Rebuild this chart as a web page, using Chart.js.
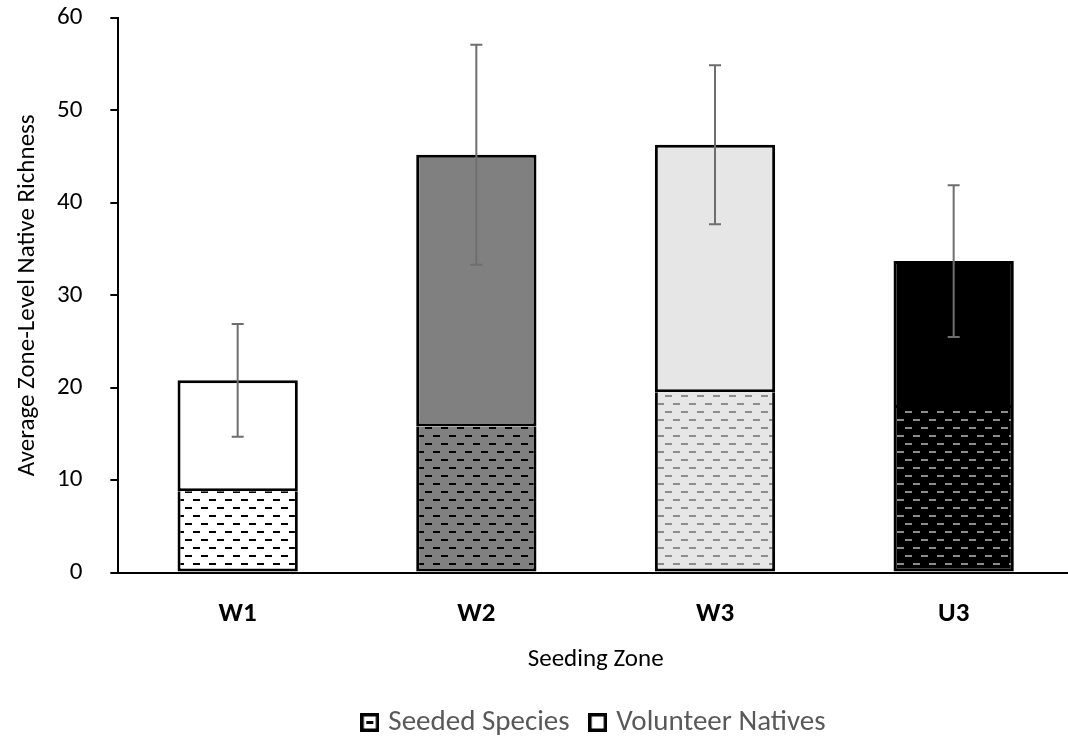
<!DOCTYPE html>
<html>
<head>
<meta charset="utf-8">
<script src="https://cdn.jsdelivr.net/npm/chart.js@4/dist/chart.umd.min.js"></script>
<style>
html,body{margin:0;padding:0;background:#fff;overflow:hidden;}
#wrap{position:relative;width:1073px;height:738px;}
</style>
</head>
<body>
<div id="wrap"><canvas id="c"></canvas></div>
<script>
const categories = ["W1", "W2", "W3", "U3"];
const seededSpecies = [8.8, 15.8, 19.5, 17.8];
const volunteerNatives = [12.0, 29.4, 26.8, 15.9];
const errorSE = [6.1, 11.9, 8.6, 8.2];
const yTicks = [0, 10, 20, 30, 40, 50, 60];

const barFill = ["#ffffff", "#808080", "#e6e6e6", "#000000"];
const dashColor = ["#000000", "#000000", "#8c8c8c", "#8c8c8c"];

function makePattern(bg, fg) {
  const t = document.createElement('canvas');
  t.width = 16; t.height = 16;
  const g = t.getContext('2d');
  g.fillStyle = bg; g.fillRect(0, 0, 16, 16);
  g.fillStyle = fg;
  g.fillRect(1, 3, 7, 2);
  g.fillRect(9, 11, 7, 2);
  return document.createElement('canvas').getContext('2d').createPattern(t, 'repeat');
}
const seededFill = barFill.map((b, i) => makePattern(b, dashColor[i]));

function legendIcon(withDash) {
  const s = document.createElement('canvas');
  s.width = 19; s.height = 19;
  const g = s.getContext('2d');
  g.fillStyle = '#fff'; g.fillRect(0, 0, 19, 19);
  g.strokeStyle = '#000'; g.lineWidth = 3.5;
  g.strokeRect(1.75, 1.75, 15.5, 15.5);
  if (withDash) { g.fillStyle = '#000'; g.fillRect(6, 8, 7, 3); }
  return s;
}

const errorBars = {
  id: 'errorBars',
  afterDatasetsDraw(chart) {
    const ctx = chart.ctx;
    const xs = chart.scales.x, ys = chart.scales.y;
    ctx.save();
    ctx.strokeStyle = '#6e6e6e';
    ctx.lineWidth = 2;
    categories.forEach((c, i) => {
      const total = seededSpecies[i] + volunteerNatives[i];
      const x = xs.getPixelForValue(i);
      const yt = ys.getPixelForValue(total + errorSE[i]);
      const yb = ys.getPixelForValue(total - errorSE[i]);
      ctx.beginPath();
      ctx.moveTo(x, yt); ctx.lineTo(x, yb);
      ctx.moveTo(x - 6, yt); ctx.lineTo(x + 6, yt);
      ctx.moveTo(x - 6, yb); ctx.lineTo(x + 6, yb);
      ctx.stroke();
    });
    ctx.restore();
  }
};

const FONT = "Carlito, Lato, 'Open Sans', sans-serif";

new Chart(document.getElementById('c'), {
  type: 'bar',
  data: {
    labels: categories,
    datasets: [
      {
        label: 'Seeded Species',
        data: seededSpecies,
        backgroundColor: seededFill,
        borderColor: '#000',
        borderWidth: 3,
        borderSkipped: 'top',
        barPercentage: 0.504,
        categoryPercentage: 1
      },
      {
        label: 'Volunteer Natives',
        data: volunteerNatives,
        backgroundColor: barFill,
        borderColor: '#000',
        borderWidth: 3,
        borderSkipped: false,
        barPercentage: 0.504,
        categoryPercentage: 1
      }
    ]
  },
  options: {
    responsive: true,
    maintainAspectRatio: false,
    animation: false,
    layout: { padding: { top: 18, left: 13, right: 0, bottom: -9 } },
    plugins: {
      tooltip: { enabled: false },
      legend: {
        position: 'bottom',
        fullSize: false,
        labels: {
          font: { family: FONT, size: 29 },
          color: '#595959',
          usePointStyle: true,
          padding: 24,
          boxWidth: 8, boxHeight: 19,
          generateLabels(chart) {
            return chart.data.datasets.map((d, i) => ({
              text: d.label,
              pointStyle: legendIcon(i === 0),
              datasetIndex: i,
              fontColor: '#595959',
              hidden: false,
              lineWidth: 0
            }));
          }
        }
      }
    },
    scales: {
      x: {
        stacked: true,
        grid: { display: false },
        border: { display: true, color: '#000', width: 2 },
        ticks: { font: { family: FONT, size: 27, weight: 'bold' }, color: '#000', padding: 17 },
        title: { display: true, text: 'Seeding Zone', font: { family: FONT, size: 25 }, color: '#000', padding: { top: -2, bottom: 9 } }
      },
      y: {
        stacked: true,
        min: 0, max: 60,
        afterBuildTicks(scale) { scale.ticks = yTicks.map(v => ({ value: v })); },
        grid: { display: true, drawOnChartArea: false, drawTicks: true, tickLength: 36, tickBorderDash: [0, 28, 8, 200], color: '#000', lineWidth: 2 },
        border: { display: true, color: '#000', width: 2 },
        ticks: { font: { family: FONT, size: 25 }, color: '#000', padding: 0 },
        title: { display: true, text: 'Average Zone-Level Native Richness', font: { family: FONT, size: 25 }, color: '#000', padding: { top: 0, bottom: 14 } }
      }
    }
  },
  plugins: [errorBars]
});
</script>
</body>
</html>
